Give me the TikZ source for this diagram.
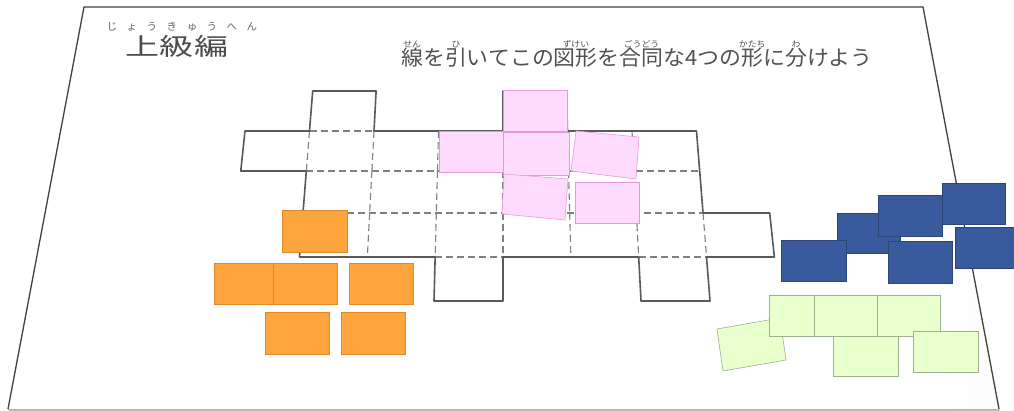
\documentclass[tikz,border=0pt]{standalone}
\usepackage{fontspec}
\newfontfamily\jpfont{Noto Sans CJK JP}
\usepackage{xcolor}
\usepackage{tikz}
\usetikzlibrary{calc}

\definecolor{pinkfill}{HTML}{FFDAFF}
\definecolor{pinkline}{HTML}{E39AD8}
\definecolor{orangefill}{HTML}{FFA53D}
\definecolor{orangeline}{HTML}{E0862C}
\definecolor{bluefill}{HTML}{3A5A9E}
\definecolor{blueline}{HTML}{2C4478}
\definecolor{greenfill}{HTML}{E9FFCD}
\definecolor{greenline}{HTML}{9DB28C}
\pgfdeclarehorizontalshading{sheetshade}{100bp}{color(0bp)=(white); color(72bp)=(white); color(100bp)=(black!11)}

% ruby over a base word
\newsavebox\furibox
\newcommand{\furi}[2]{\sbox\furibox{#1}\makebox[\wd\furibox][c]{\raisebox{0.9em}[0pt][0pt]{\fontsize{8.5}{8.5}\selectfont #2}}\kern-\wd\furibox\usebox\furibox}
\newcommand{\wk}[1]{\makebox[20pt]{#1}}

\begin{document}
\begin{tikzpicture}[x=1pt, y=-1pt,
  sheet/.style={draw=black!75, line width=1.3pt, line join=round},
  outline/.style={draw=black!65, line width=1.6pt, line join=round},
  gridline/.style={draw=black!50, line width=1.1pt, dash pattern=on 7pt off 4pt},
  pinksq/.style={fill=pinkfill, draw=pinkline, line width=0.6pt},
  orangesq/.style={fill=orangefill, draw=orangeline, line width=0.6pt},
  bluesq/.style={fill=bluefill, draw=blueline, line width=0.6pt},
  greensq/.style={fill=greenfill, draw=greenline, line width=0.6pt},
  title/.style={font=\jpfont\fontsize{24}{24}\selectfont, text=black!70, inner sep=0pt, anchor=base},
  ruby/.style={font=\jpfont\fontsize{10.5}{10.5}\selectfont, text=black!60, inner sep=0pt, anchor=base},
  task/.style={font=\jpfont\fontsize{21}{21}\selectfont, text=black!68, inner sep=0pt, anchor=base}
]
\useasboundingbox (0,0) rectangle (1014,411);
\fill[white] (0,0) rectangle (1014,411);

% sheet
\fill[black!25] (8,409) -- (999,409) -- (1000,411) -- (9,411) -- cycle;
\shade[shading=sheetshade] (84,7) -- (923,7) -- (999,409) -- (8,409) -- cycle;
\draw[sheet] (8,409) -- (84,7) -- (923,7) -- (999,409);
\draw[black!30, line width=0.8pt] (8,409) -- (999,409);

% headings
\node[ruby] (titleruby) at (182,31) {\wk{じ}\wk{ょ}\wk{う}\wk{き}\wk{ゅ}\wk{う}\wk{へ}\wk{ん}};
\node[title] (title) at (177,56) {\scalebox{1.42}[1]{上級編}};
\node[task] (task) at (637,66) {\scalebox{1.043}[1]{\furi{線}{せん}を\furi{引}{ひ}いてこの\furi{図形}{ずけい}を\furi{合同}{ごうどう}な4つの\furi{形}{かたち}に\furi{分}{わ}けよう}};

% grid points
\foreach \r/\yy in {0/91,1/131,2/171,3/213,4/257,5/301}
  \foreach \k in {0,...,8}
    \coordinate (p\k\r) at ({503+(\k-4)*(64.5+0.0265*(\yy-131))},\yy);

% inner lines
\draw[gridline] (p11) -- (p21) (p41) -- (p51) (p12) -- (p72) (p13) -- (p73) (p34) -- (p44) (p64) -- (p74);
\foreach \k in {1,...,6} \draw[gridline] (p\k1) -- (p\k2);
\foreach \k in {2,...,6} \draw[gridline] (p\k2) -- (p\k3);
\foreach \k in {2,...,7} \draw[gridline] (p\k3) -- (p\k4);

% outer border
\draw[outline] (p10) -- (p20) -- (p21) -- (p41) -- (p40) -- (p50) -- (p51) -- (p71) -- (p73) -- (p83)
  -- (p84) -- (p74) -- (p75) -- (p65) -- (p64) -- (p44) -- (p45) -- (p35) -- (p34) -- (p14)
  -- (p12) -- (p02) -- (p01) -- (p11) -- cycle;

% pink pieces
\foreach \xa/\ya/\xb/\yb in {503/90/567/131, 439/131/503/172, 503/132/569/175, 575/182/639/223}
  \draw[pinksq] (\xa,\ya) rectangle (\xb,\yb);
\draw[pinksq] (576,131) -- (639,137) -- (636,179) -- (571,171) -- cycle;
\draw[pinksq] (504,174) -- (568,179) -- (565,220) -- (502,214) -- cycle;

% orange pieces
\foreach \xa/\ya/\xb/\yb in {282/210/347/252, 214/263/278/304, 273/263/337/304, 349/263/413/304, 265/312/329/354, 341/312/405/354}
  \draw[orangesq] (\xa,\ya) rectangle (\xb,\yb);

% blue pieces
\foreach \xa/\ya/\xb/\yb in {837/213/900/253, 781/240/846/281, 878/195/942/236, 888/241/952/283, 942/183/1005/224, 955/227/1018/268}
  \draw[bluesq] (\xa,\ya) rectangle (\xb,\yb);

% green pieces
\draw[greensq] (717,329) -- (780,318) -- (786,360) -- (723,371) -- cycle;
\foreach \xa/\ya/\xb/\yb in {769/295/833/336, 814/295/877/336, 877/295/940/336, 833/336/898/376, 913/331/978/372}
  \draw[greensq] (\xa,\ya) rectangle (\xb,\yb);
\end{tikzpicture}
\end{document}
